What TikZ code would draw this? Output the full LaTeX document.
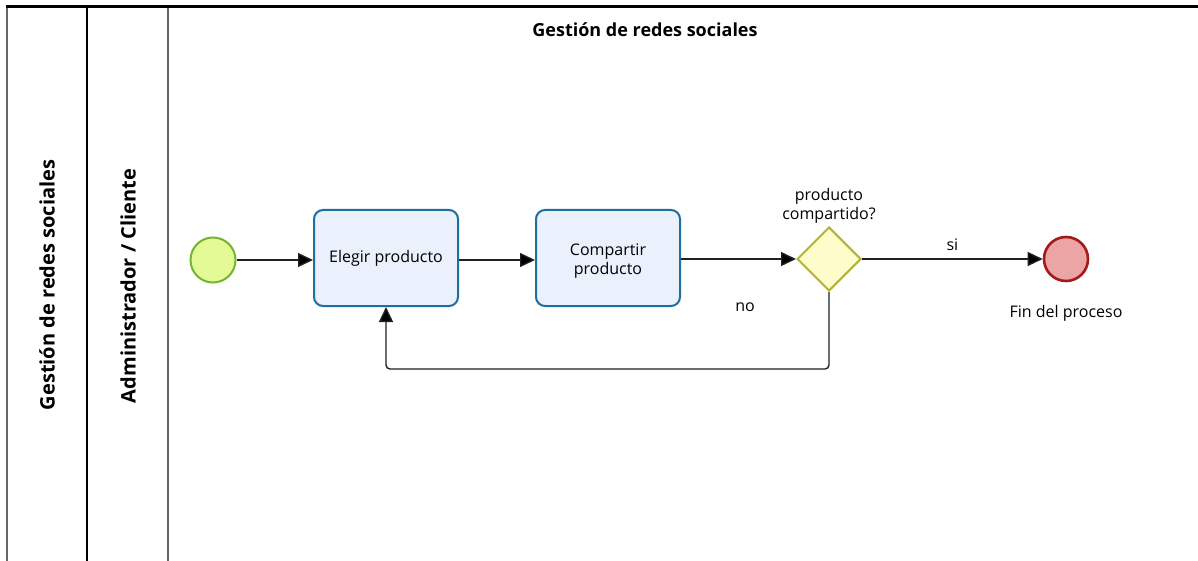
\documentclass[tikz,border=0pt]{standalone}
\usepackage{fontspec}
\setmainfont{Open Sans}
\usetikzlibrary{shapes.geometric,arrows.meta}
\definecolor{taskfill}{HTML}{EAF0FC}
\definecolor{taskdraw}{HTML}{1F6E9C}
\definecolor{startfill}{HTML}{E3FA96}
\definecolor{startdraw}{HTML}{76B531}
\definecolor{endfill}{HTML}{EBA5A5}
\definecolor{enddraw}{HTML}{A51919}
\definecolor{gwfill}{HTML}{FDFDCB}
\definecolor{gwdraw}{HTML}{B3B336}
\definecolor{flow}{HTML}{202020}
\tikzset{
  x=1pt,y=-1pt,
  task/.style={draw=taskdraw,fill=taskfill,line width=2pt,rounded corners=9pt,minimum width=144pt,minimum height=96pt,inner sep=0pt,align=center,font=\fontsize{16}{20}\selectfont},
  startev/.style={circle,draw=startdraw,fill=startfill,line width=2pt,minimum size=45pt,inner sep=0pt},
  endev/.style={circle,draw=enddraw,fill=endfill,line width=2.6pt,minimum size=44pt,inner sep=0pt},
  gateway/.style={diamond,draw=gwdraw,fill=gwfill,line width=2pt,minimum width=64pt,minimum height=64pt,inner sep=0pt,aspect=1},
  flowline/.style={draw=flow,line width=1.4pt,-{Triangle[length=15pt,width=14pt,fill=black]}},
  lbl/.style={font=\fontsize{16}{19}\selectfont,align=center,inner sep=0pt},
  lanelbl/.style={font=\bfseries\fontsize{20}{24}\selectfont,rotate=90,inner sep=0pt}
}
\begin{document}
\begin{tikzpicture}
\useasboundingbox (0,0) rectangle (1198,561);
\fill[white] (0,0) rectangle (1198,561);
% pool / lanes
\draw[gray!80!black,line width=2pt] (7,7) -- (7,561);
\draw[black,line width=2.5pt] (87,7) -- (87,561);
\draw[gray!80!black,line width=2pt] (168,7) -- (168,561);
\draw[black,line width=3pt] (6,7) -- (1198,7);
\node[lanelbl] (pool) at (47,285) {Gestión de redes sociales};
\node[lanelbl] (lane) at (128,286) {Administrador / Cliente};
\node[font=\bfseries\fontsize{18}{22}\selectfont,inner sep=0pt] (title) at (645,30) {Gestión de redes sociales};
% nodes
\node[startev] (start) at (213,260) {};
\node[task] (elegir) at (386,258) {Elegir producto};
\node[task,text depth=0pt] (compartir) at (608,258) {\raisebox{-3pt}{\shortstack{Compartir\\producto}}};
\node[gateway] (gw) at (829,259) {};
\node[lbl] (gwlbl) at (829,206) {producto\\compartido?};
\node[endev] (fin) at (1066,259) {};
\node[lbl] (finlbl) at (1066,313) {Fin del proceso};
\coordinate (c1) at (829,369);
\coordinate (c2) at (386,369);
% flows
\draw[flowline] (start) -- (elegir.west |- start);
\draw[flowline] (elegir.east |- start) -- (compartir.west |- start);
\draw[flowline] (compartir.east |- gw) -- (gw.west);
\draw[flowline] (gw.east) -- node[lbl,above=8pt,pos=0.5] (si) {si} (fin.west);
\draw[flowline,rounded corners=4pt] (gw.south) -- (c1) -- (c2) -- (elegir.south);
\node[lbl] (no) at (745,307) {no};
\end{tikzpicture}
\end{document}
